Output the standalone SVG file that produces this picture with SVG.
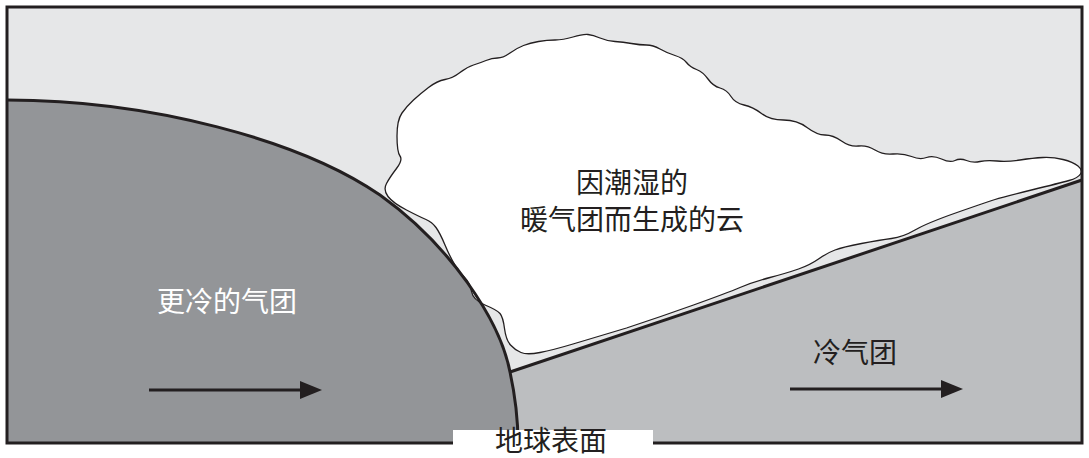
<svg xmlns="http://www.w3.org/2000/svg" width="1089" height="458" viewBox="0 0 1089 458">
  <style>
    .line { fill: none; stroke: #231f20; stroke-width: 3; }
    .label { font-family: "Noto Sans CJK SC", "Noto Sans", sans-serif; font-size: 28px; text-anchor: middle; fill: #231f20; }
    .label.light { fill: #ffffff; }
    .cloud { fill: #ffffff; stroke: #231f20; stroke-width: 1.3; stroke-linejoin: round; }
  </style>
  <defs>
    <marker id="arrowhead" viewBox="0 0 22 18" refX="0" refY="9" markerWidth="22" markerHeight="18" markerUnits="userSpaceOnUse" orient="auto">
      <path d="M0,0 L22,9 L0,18 Z" fill="#231f20"/>
    </marker>
  </defs>

  <!-- sky -->
  <rect x="0" y="0" width="1089" height="458" fill="#ffffff"/>
  <rect x="7" y="7" width="1075" height="436" fill="#e6e7e8"/>

  <!-- colder air mass (left) -->
  <g id="colder-air">
    <path d="M7,100 C150,100 300,140 380,195 C450,245 500,320 510,372 C515,395 518,420 518,443 L7,443 Z" fill="#939598"/>
    <text class="label light" x="227" y="312">更冷的气团</text>
  </g>

  <!-- cold air mass (right) -->
  <g id="cold-air">
    <path d="M510,372 L1082,180 L1082,443 L518,443 C518,420 515,395 510,372 Z" fill="#bcbec0"/>
    <text class="label" x="855" y="363">冷气团</text>
  </g>

  <!-- cloud formed from the moist warm air -->
  <g id="cloud">
    <path class="cloud" d="M396.5,168.5 Q403,160 400,156 Q397,152 397,136 Q397,120 402,113 Q407,106 413.5,100 Q420,94 428.5,87.5 Q437,81 445,79.5 Q453,78 460,72.5 Q467,67 473.5,65 Q480,63 486,60.5 Q492,58 497.5,58 Q503,58 510,53 Q517,48 523.5,45.5 Q530,43 538.5,41.5 Q547,40 555,40 Q563,40 573,37 Q583,34 588,34.5 Q593,35 600,38 Q607,41 615,41.5 Q623,42 631.5,43.5 Q640,45 646.5,45 Q653,45 660,49 Q667,53 675,55.5 Q683,58 686.5,62.5 Q690,67 696.5,69.5 Q703,72 708,79 Q713,86 720,88 Q727,90 731,96.5 Q735,103 744,105 Q753,107 761.5,113.5 Q770,120 783.5,120 Q797,120 807,127.5 Q817,135 825,135 Q833,135 841.5,141 Q850,147 858.5,146 Q867,145 875,150 Q883,155 893,154 Q903,153 911.5,156.5 Q920,160 926.5,157.5 Q933,155 941.5,159 Q950,163 955,160.5 Q960,158 966.5,160.5 Q973,163 980,161.5 Q987,160 997,161 Q1007,162 1020,160 Q1033,158 1043,157.5 Q1053,157 1063,159.5 Q1073,162 1078,166 Q1083,170 1080.5,174 Q1078,178 1069,180.5 Q1060,183 1031.5,190 Q1003,197 995,199.5 Q987,202 957,212.5 Q927,223 915,230 Q903,237 891.5,238.5 Q880,240 861.5,243.5 Q843,247 835,250 Q827,253 818.5,259 Q810,265 798.5,269 Q787,273 770,277.5 Q753,282 740,287.5 Q727,293 693.5,305 Q660,317 626.5,328 Q593,338 573,344 Q553,350 540,352.5 Q527,355 521,352.5 Q515,350 510.5,345 Q506,340 504.5,328.5 Q503,317 500,313.5 Q497,310 485,305 Q473,300 471.5,291.5 Q470,283 465,278 Q460,273 455,265 Q450,257 445,245 Q440,233 436,227.5 Q432,222 426,219.5 Q420,217 406.5,210 Q393,203 388,196.5 Q383,190 386.5,183.5 Q390,177 396.5,168.5 Z"/>
    <text class="label" x="632" y="193">因潮湿的</text>
    <text class="label" x="632" y="230">暖气团而生成的云</text>
  </g>

  <!-- fronts and motion arrows -->
  <g id="connectors">
    <path class="line" d="M7,100 C150,100 300,140 380,195 C450,245 500,320 510,372 C515,395 518,420 518,443"/>
    <path class="line" d="M510,372 L1082,180"/>
    <line class="line" x1="149" y1="390" x2="300" y2="390" marker-end="url(#arrowhead)"/>
    <line class="line" x1="790" y1="389" x2="941" y2="389" marker-end="url(#arrowhead)"/>
  </g>

  <!-- frame -->
  <rect class="line" x="7" y="7" width="1075" height="436"/>

  <!-- ground label -->
  <g id="ground">
    <rect x="453" y="430" width="200" height="28" fill="#ffffff"/>
    <text class="label" x="551" y="451" font-size="27">地球表面</text>
  </g>
</svg>
